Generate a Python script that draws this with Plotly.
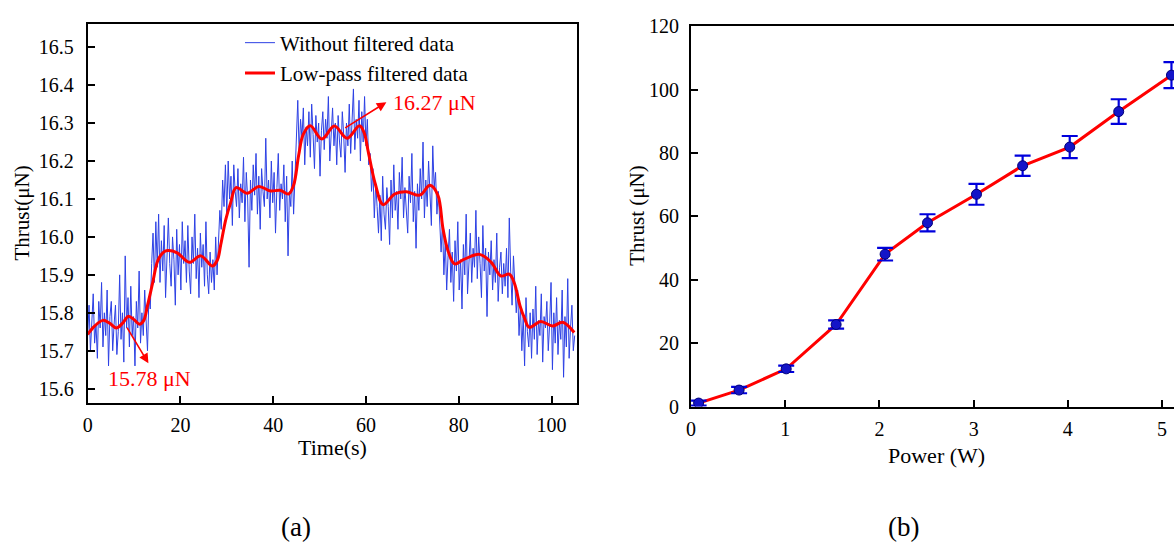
import numpy as np
import plotly.graph_objects as go

# ---------------- Data: panel (a) ----------------
sample_interval = 0.3  # s
raw_thrust = [
    15.74, 15.82, 15.70, 15.79, 15.85, 15.72, 15.77, 15.68, 15.83, 15.76,
    15.88, 15.71, 15.80, 15.74, 15.86, 15.66, 15.79, 15.83, 15.70, 15.77,
    15.82, 15.69, 15.75, 15.90, 15.73, 15.80, 15.67, 15.95, 15.76, 15.84,
    15.71, 15.87, 15.74, 15.79, 15.66, 15.83, 15.76, 15.91, 15.72, 15.80,
    15.74, 15.86, 15.78, 15.70, 15.84, 15.81, 15.93, 16.01, 15.88, 16.04,
    15.92, 16.06, 15.88, 15.99, 15.91, 16.03, 15.84, 15.97, 16.05, 15.93,
    15.87, 16.00, 15.94, 15.82, 16.02, 15.90, 15.98, 15.86, 16.04, 15.93,
    15.99, 15.88, 16.03, 15.91, 15.85, 16.00, 15.93, 16.06, 15.89, 15.97,
    15.84, 16.01, 15.92, 15.98, 15.87, 16.04, 15.90, 15.85, 15.96, 15.88,
    15.94, 15.86, 16.00, 15.90, 15.97, 16.07, 16.02, 16.15, 16.08, 16.19,
    16.06, 16.20, 16.10, 16.16, 16.03, 16.19, 16.12, 16.08, 16.18, 16.05,
    16.14, 16.09, 16.21, 16.04, 16.17, 16.10, 15.92, 16.15, 16.07, 16.19,
    16.11, 16.22, 16.06, 16.16, 16.02, 16.18, 16.12, 16.08, 16.26, 16.10,
    16.15, 16.05, 16.20, 16.09, 16.17, 16.01, 16.13, 16.22, 16.07, 16.14,
    16.10, 16.19, 16.04, 16.16, 15.95, 16.12, 16.08, 16.20, 16.06, 16.18,
    16.30, 16.36, 16.22, 16.31, 16.26, 16.34, 16.19, 16.29, 16.24, 16.33,
    16.21, 16.35, 16.27, 16.18, 16.32, 16.25, 16.30, 16.16, 16.28, 16.33,
    16.23, 16.31, 16.26, 16.37, 16.20, 16.29, 16.34, 16.24, 16.30, 16.19,
    16.32, 16.25, 16.21, 16.33, 16.27, 16.17, 16.30, 16.24, 16.35, 16.22,
    16.29, 16.39, 16.23, 16.31, 16.26, 16.36, 16.20, 16.33, 16.25, 16.37,
    16.24, 16.31, 16.19, 16.22, 16.12, 16.18, 16.05, 16.14, 16.08, 16.01,
    16.11, 15.99, 16.16, 16.06, 16.02, 16.13, 16.08, 15.98, 16.15, 16.05,
    16.19, 16.07, 16.12, 16.02, 16.17, 16.10, 16.21, 16.05, 16.13, 16.08,
    16.01, 16.16, 16.09, 16.22, 16.04, 16.12, 15.97, 16.14, 16.07, 16.18,
    16.10, 16.25, 16.05, 16.15, 16.08, 16.20, 16.11, 16.03, 16.24, 16.13,
    16.17, 16.06, 16.12, 16.02, 15.96, 16.04, 15.90, 15.99, 15.86, 15.95,
    16.02, 15.88, 15.96, 15.83, 15.99, 15.91, 16.04, 15.86, 15.94, 15.81,
    15.98, 15.90, 16.06, 15.85, 15.95, 16.01, 15.88, 15.97, 15.92, 16.07,
    15.89, 16.00, 15.93, 15.84, 16.03, 15.91, 15.97, 15.79, 15.96, 15.90,
    15.99, 15.86, 15.94, 15.88, 16.01, 15.83, 15.92, 15.96, 15.85, 15.93,
    15.87, 15.97, 15.84, 16.05, 15.91, 15.82, 15.95, 15.88, 15.80, 15.86,
    15.74, 15.82, 15.70, 15.79, 15.66, 15.84, 15.75, 15.71, 15.80, 15.68,
    15.81, 15.73, 15.87, 15.69, 15.78, 15.74, 15.85, 15.67, 15.79, 15.76,
    15.83, 15.70, 15.77, 15.88, 15.65, 15.80, 15.72, 15.84, 15.69, 15.78,
    15.73, 15.86, 15.63, 15.79, 15.71, 15.89, 15.68, 15.76, 15.82, 15.70,
    15.74,
]
raw_time = [round(i * sample_interval, 2) for i in range(len(raw_thrust))]

filt_time = [0, 1.5, 3.3, 4.8, 6.2, 7.5, 8.8, 10, 11.2, 12.1,
             12.9, 14.0, 15.1, 16.2, 17.2, 19.3, 21.9, 24.4, 26.9, 28.0,
             28.7, 29.8, 30.8, 32.0, 34.4, 36.9, 39.4, 41.5, 43.3, 44.4,
             45.5, 46.5, 48.0, 50.5, 53.2, 55.9, 58.6, 59.6, 60.5, 62.0,
             63.7, 66.2, 68.7, 71.6, 73.8, 75.5, 76.6, 77.7, 79.1, 81.0,
             84.5, 87.0, 89.1, 90.9, 92.0, 93.2, 94.2, 95.2, 97.7, 100.2,
             102.4, 104.9]
filt_thrust = [15.743, 15.765, 15.780, 15.772, 15.760, 15.772, 15.791, 15.782, 15.770, 15.780,
               15.819, 15.878, 15.937, 15.958, 15.964, 15.958, 15.933, 15.950, 15.923, 15.940,
               15.980, 16.047, 16.089, 16.130, 16.115, 16.133, 16.121, 16.123, 16.113, 16.136,
               16.216, 16.271, 16.293, 16.258, 16.292, 16.260, 16.293, 16.275, 16.224, 16.140,
               16.085, 16.113, 16.119, 16.110, 16.136, 16.110, 16.022, 15.963, 15.929, 15.940,
               15.954, 15.933, 15.897, 15.902, 15.878, 15.819, 15.785, 15.762, 15.777, 15.765,
               15.775, 15.748]

# ---------------- Data: panel (b) ----------------
power_w = [0.08, 0.51, 1.01, 1.54, 2.06, 2.51, 3.03, 3.52, 4.02, 4.54, 5.10]
thrust_un = [1.1, 5.2, 11.9, 25.9, 48.1, 58.0, 67.0, 76.0, 81.9, 93.1, 104.6]
thrust_err = [0.8, 1.0, 1.0, 1.3, 2.0, 2.7, 3.3, 3.2, 3.5, 3.9, 4.1]

W, H = 1174, 551
FONT = "Liberation Serif, serif"

def px(x):
    return x / W

def py(y):
    return 1 - y / H

fig = go.Figure()

fig.add_trace(go.Scatter(
    x=raw_time, y=raw_thrust, mode="lines",
    line=dict(color="rgb(45,65,228)", width=1),
    name="Without filtered data", xaxis="x", yaxis="y", showlegend=True))
fig.add_trace(go.Scatter(
    x=filt_time, y=filt_thrust, mode="lines",
    line=dict(color="#ff0000", width=3, shape="spline", smoothing=1.0),
    name="Low-pass filtered data", xaxis="x", yaxis="y", showlegend=True))

fig.add_trace(go.Scatter(
    x=power_w, y=thrust_un, mode="lines",
    line=dict(color="#ff0000", width=3),
    xaxis="x2", yaxis="y2", showlegend=False))
fig.add_trace(go.Scatter(
    x=power_w, y=thrust_un, mode="markers",
    marker=dict(color="rgb(20,20,200)", size=10, line=dict(color="rgb(0,0,120)", width=1)),
    error_y=dict(type="data", array=thrust_err, visible=True,
                 color="rgb(0,0,220)", thickness=2.2, width=8),
    xaxis="x2", yaxis="y2", showlegend=False))

axis_common = dict(
    showline=True, linecolor="black", linewidth=2,
    ticks="inside", ticklen=7, tickwidth=2, tickcolor="black",
    showgrid=False, zeroline=False,
    tickfont=dict(family=FONT, size=20, color="black"),
)

fig.update_layout(
    width=W, height=H, autosize=False,
    margin=dict(l=0, r=0, t=0, b=0),
    paper_bgcolor="white", plot_bgcolor="white",
    xaxis=dict(domain=[px(83), px(574)], range=[0, 105.4], dtick=20, tick0=0,
               anchor="y", mirror=True, ticklabelstandoff=3, **axis_common),
    yaxis=dict(domain=[py(408), py(14)], range=[15.563, 16.56], dtick=0.1, tick0=15.6,
               tickformat=".1f", anchor="x", mirror=True, ticklabelstandoff=8, **axis_common),
    xaxis2=dict(domain=[px(689), 1.0], range=[0, 5.127], dtick=1, tick0=0,
                anchor="y2", mirror=True, ticklabelstandoff=3, **axis_common),
    yaxis2=dict(domain=[py(412), py(16)], range=[0, 120], dtick=20, tick0=0,
                anchor="x2", mirror=False, ticklabelstandoff=6, **axis_common),
    legend=dict(x=px(236), y=py(12), xanchor="left", yanchor="top",
                bgcolor="rgba(0,0,0,0)", borderwidth=0,
                font=dict(family=FONT, size=21, color="black"),
                tracegroupgap=0, itemwidth=30),
    showlegend=True,
)

ann = []
def txt(text, x, y, size, color="black", angle=0, xanchor="center"):
    ann.append(dict(text=text, x=px(x), y=py(y), xref="paper", yref="paper",
                    showarrow=False, textangle=angle, xanchor=xanchor, yanchor="middle",
                    font=dict(family=FONT, size=size, color=color)))

txt("Thrust(μN)", 17, 210, 21, angle=-90)
txt("Time(s)", 329, 455, 22)
txt("Thrust (μN)", 635, 213, 21, angle=-90)
txt("Power (W)", 935, 463, 22)
txt("(a)", 292, 537, 27)
txt("(b)", 902, 537, 27)

# data annotations with arrows (panel a)
ann.append(dict(x=13.1, y=15.667, ax=8.3, ay=15.765, xref="x", yref="y", axref="x", ayref="y",
                text="", showarrow=True, arrowhead=2, arrowsize=1.2, arrowwidth=1.6,
                arrowcolor="#ff0000"))
ann.append(dict(x=13.3, y=15.627, xref="x", yref="y", text="15.78 μN", showarrow=False,
                font=dict(family=FONT, size=22, color="#ff0000"), xanchor="center", yanchor="middle"))
ann.append(dict(x=64.4, y=16.355, ax=55.2, ay=16.285, xref="x", yref="y", axref="x", ayref="y",
                text="", showarrow=True, arrowhead=2, arrowsize=1.2, arrowwidth=1.6,
                arrowcolor="#ff0000"))
ann.append(dict(x=65.4, y=16.355, xref="x", yref="y", text="16.27 μN", showarrow=False,
                font=dict(family=FONT, size=22, color="#ff0000"), xanchor="left", yanchor="middle"))

fig.update_layout(annotations=ann)
fig.write_html("out.html")
